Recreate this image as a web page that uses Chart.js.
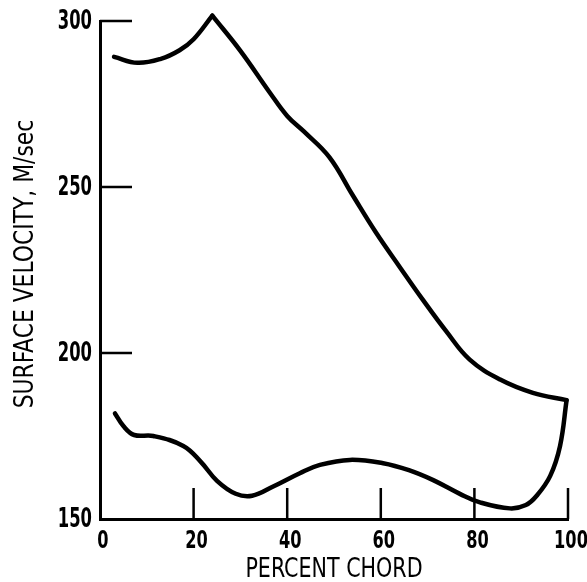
<!DOCTYPE html>
<html>
<head>
<meta charset="utf-8">
<script src="https://cdn.jsdelivr.net/npm/chart.js@4/dist/chart.umd.min.js"></script>
<style>
  html, body { margin: 0; padding: 0; background: #fff; }
  canvas { display: block; }
</style>
</head>
<body>
<canvas id="chart" width="587" height="582"></canvas>
<script>
// curva superior (extrados), pico en 24 %
const upperX = [3, 8, 13, 17, 20, 24, 30, 36.3, 40, 43.5, 49, 54, 59, 64, 69, 74, 79, 85.5, 92.5, 99.7];
const upperY = [289.2, 287.4, 288.6, 291.2, 294.5, 301.6, 291, 278.4, 271.4, 266.8, 259, 247.5, 236.2, 226, 216, 206.5, 198, 192, 188, 185.8];
const peakIndex = 5;

// curva inferior (intrados)
const lowerX = [3.2, 5, 7.3, 11.4, 17.8, 21.5, 25, 29, 32.5, 37, 42.7, 47, 53.4, 60.5, 66, 71.2, 77, 81.2, 87.6, 91, 93.3, 96.2, 98.3, 99.7];
const lowerY = [181.8, 178, 175.3, 175, 172, 167.3, 161.5, 157.6, 157, 159.8, 163.8, 166.3, 167.8, 166.8, 164.7, 161.7, 157.5, 155, 153.2, 154.2, 157, 163, 172, 185.8];

const xTicks = [0, 20, 40, 60, 80, 100];
const yTicks = [150, 200, 250, 300];

const xTitle = 'PERCENT CHORD';
const yTitle = 'SURFACE VELOCITY, M/sec';

const FONT = "'DejaVu Sans Condensed', 'DejaVu Sans', sans-serif";

const toPoints = (xs, ys) => xs.map((x, i) => ({ x: x, y: ys[i] }));

// texto estrecho (rotulado de la figura original)
function narrowText(ctx, text, x, y, opts) {
  ctx.save();
  ctx.translate(x, y);
  if (opts.rotate) ctx.rotate(-Math.PI / 2);
  ctx.scale(opts.sx, 1);
  ctx.font = (opts.weight || 'normal') + ' ' + opts.size + 'px ' + FONT;
  ctx.fillStyle = '#000';
  ctx.textAlign = opts.align || 'center';
  ctx.textBaseline = opts.baseline || 'alphabetic';
  ctx.fillText(text, 0, 0);
  ctx.restore();
}

// marcas hacia dentro + rótulos
const axisDecor = {
  id: 'axisDecor',
  afterDraw(chart) {
    const ctx = chart.ctx;
    const xs = chart.scales.x, ys = chart.scales.y;
    ctx.save();
    ctx.strokeStyle = '#000';
    ctx.lineWidth = 2.5;
    ctx.beginPath();
    yTicks.slice(1).forEach(v => {
      const py = ys.getPixelForValue(v);
      ctx.moveTo(xs.left, py);
      ctx.lineTo(xs.left + 32, py);
    });
    xTicks.slice(1).forEach(v => {
      const px = xs.getPixelForValue(v);
      ctx.moveTo(px, ys.bottom);
      ctx.lineTo(px, ys.bottom - 31);
    });
    ctx.stroke();
    ctx.restore();

    yTicks.forEach(v => {
      narrowText(ctx, String(v), xs.left - 8, ys.getPixelForValue(v) + 1,
        { size: 26, weight: 'bold', sx: 0.7, align: 'right', baseline: 'middle' });
    });
    xTicks.forEach(v => {
      narrowText(ctx, String(v), xs.getPixelForValue(v) + 3, ys.bottom + 29,
        { size: 25, weight: 'bold', sx: 0.72 });
    });
    narrowText(ctx, xTitle, (xs.left + xs.right) / 2, ys.bottom + 58,
      { size: 27, sx: 0.85 });
    narrowText(ctx, yTitle, 33, (ys.top + ys.bottom) / 2 - 6,
      { size: 27, sx: 0.9, rotate: true });
  }
};

const lineStyle = {
  showLine: true,
  borderColor: '#000',
  borderWidth: 4.5,
  pointRadius: 0,
  fill: false,
  tension: 0.4,
  clip: false,
  borderCapStyle: 'round',
  borderJoinStyle: 'round'
};

new Chart(document.getElementById('chart').getContext('2d'), {
  type: 'scatter',
  data: {
    datasets: [
      Object.assign({ label: 'upper-a', data: toPoints(upperX.slice(0, peakIndex + 1), upperY.slice(0, peakIndex + 1)) }, lineStyle),
      Object.assign({ label: 'upper-b', data: toPoints(upperX.slice(peakIndex), upperY.slice(peakIndex)) }, lineStyle),
      Object.assign({ label: 'lower', data: toPoints(lowerX, lowerY) }, lineStyle)
    ]
  },
  options: {
    responsive: false,
    animation: false,
    layout: { padding: { top: 21, right: 19, left: 0, bottom: 0 } },
    plugins: { legend: { display: false }, tooltip: { enabled: false } },
    scales: {
      x: {
        type: 'linear',
        min: 0,
        max: 100,
        afterFit(scale) { scale.height = 63; },
        grid: { display: false, drawTicks: false },
        border: { display: true, color: '#000', width: 3 },
        ticks: { display: false, stepSize: 20 }
      },
      y: {
        min: 150,
        max: 300,
        afterFit(scale) { scale.width = 100; },
        grid: { display: false, drawTicks: false },
        border: { display: true, color: '#000', width: 3 },
        ticks: { display: false, stepSize: 50 }
      }
    }
  },
  plugins: [axisDecor]
});
</script>
</body>
</html>
